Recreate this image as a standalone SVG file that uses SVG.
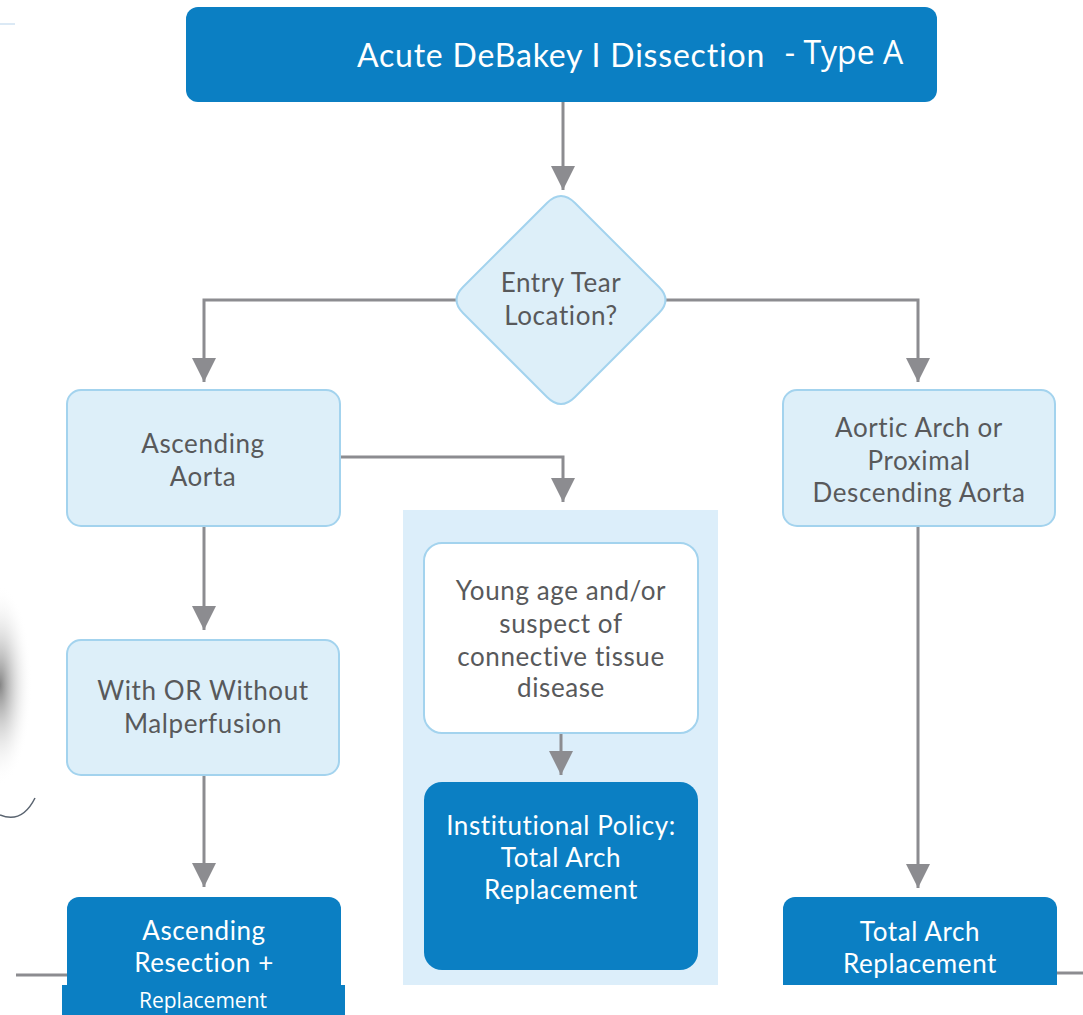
<svg xmlns="http://www.w3.org/2000/svg" width="1083" height="1015" viewBox="0 0 1083 1015">
<defs>
<marker id="ah" markerUnits="userSpaceOnUse" markerWidth="28" markerHeight="24" refX="24" refY="12" orient="auto">
<path d="M0,0 L24,12 L0,24 Z" fill="#8c8c90"/>
</marker>
<radialGradient id="shade" cx="0.5" cy="0.5" r="0.5">
<stop offset="0" stop-color="#777" stop-opacity="0.9"/>
<stop offset="1" stop-color="#fff" stop-opacity="0"/>
</radialGradient>
<style>
.dark{fill:#0b7fc3;}
.light{fill:#ddeff9;stroke:#a3d3ee;stroke-width:2;}
.white{fill:#ffffff;stroke:#a3d3ee;stroke-width:2;}
.t{font-family:Lato,"Open Sans","Liberation Sans",sans-serif;font-size:26px;letter-spacing:0.6px;text-anchor:middle;}
.g{fill:#58595b;}
.w{fill:#ffffff;}
.c{fill:none;stroke:#8c8c90;stroke-width:3;}
</style>
</defs>
<rect width="1083" height="1015" fill="#ffffff"/>
<line x1="0" y1="24" x2="15" y2="24" stroke="#dbe9f5" stroke-width="2"/>
<ellipse cx="0" cy="685" rx="32" ry="100" fill="url(#shade)"/>
<path d="M0,815 Q22,824 35,798" fill="none" stroke="#5a6470" stroke-width="1.5"/>
<rect x="403" y="510" width="315" height="475" fill="#dceefa"/>

<g id="connectors">
<line class="c" x1="563" y1="102" x2="563" y2="190" marker-end="url(#ah)"/>
<polyline class="c" points="457,300 204,300 204,382" marker-end="url(#ah)"/>
<polyline class="c" points="665,300 918,300 918,382" marker-end="url(#ah)"/>
<polyline class="c" points="340,457 563,457 563,502" marker-end="url(#ah)"/>
<line class="c" x1="204" y1="526" x2="204" y2="630" marker-end="url(#ah)"/>
<line class="c" x1="204" y1="775" x2="204" y2="887" marker-end="url(#ah)"/>
<line class="c" x1="561" y1="733" x2="561" y2="775" marker-end="url(#ah)"/>
<line class="c" x1="918" y1="526" x2="918" y2="888" marker-end="url(#ah)"/>
<line class="c" x1="16" y1="975" x2="67" y2="975"/>
<line class="c" x1="1057" y1="973" x2="1083" y2="973"/>
</g>

<g id="n-top">
<rect class="dark" x="186" y="7" width="751" height="95" rx="12"/>
<text class="t w" x="561" y="67" style="font-size:32px;letter-spacing:0.8px">Acute DeBakey I Dissection</text>
<text x="844" y="64" text-anchor="middle" fill="#ffffff" font-family="'Open Sans','Liberation Sans',sans-serif" font-size="32">- Type A</text>
</g>

<g id="n-entry">
<path class="light" d="M547,203 Q561,189 575,203 L659,287 Q672,300 659,313 L575,397 Q561,411 547,397 L463,313 Q450,300 463,287 Z"/>
<text class="t g" x="561" y="292">Entry Tear</text>
<text class="t g" x="561" y="325">Location?</text>
</g>

<g id="n-ascending">
<rect class="light" x="67" y="390" width="273" height="136" rx="14"/>
<text class="t g" x="203" y="453">Ascending</text>
<text class="t g" x="203" y="486">Aorta</text>
</g>

<g id="n-arch">
<rect class="light" x="783" y="390" width="272" height="136" rx="14"/>
<text class="t g" x="919" y="437">Aortic Arch or</text>
<text class="t g" x="919" y="470">Proximal</text>
<text class="t g" x="919" y="502">Descending Aorta</text>
</g>

<g id="n-young">
<rect class="white" x="424" y="543" width="274" height="190" rx="18"/>
<text class="t g" x="561" y="600">Young age and/or</text>
<text class="t g" x="561" y="633">suspect of</text>
<text class="t g" x="561" y="666">connective tissue</text>
<text class="t g" x="561" y="697">disease</text>
</g>

<g id="n-institutional">
<rect class="dark" x="424" y="782" width="274" height="188" rx="18"/>
<text class="t w" x="561" y="835">Institutional Policy:</text>
<text class="t w" x="561" y="867">Total Arch</text>
<text class="t w" x="561" y="899">Replacement</text>
</g>

<g id="n-malperfusion">
<rect class="light" x="67" y="640" width="272" height="135" rx="14"/>
<text class="t g" x="203" y="700">With OR Without</text>
<text class="t g" x="203" y="733">Malperfusion</text>
</g>

<g id="n-resection">
<rect class="dark" x="67" y="897" width="274" height="100" rx="12"/>
<text class="t w" x="204" y="940">Ascending</text>
<text class="t w" x="204" y="972">Resection +</text>
</g>

<g id="n-total">
<rect class="dark" x="783" y="897" width="274" height="100" rx="12"/>
<text class="t w" x="920" y="941">Total Arch</text>
<text class="t w" x="920" y="973">Replacement</text>
</g>

<rect x="0" y="985" width="1083" height="30" fill="#ffffff"/>
<g id="n-replacement">
<rect class="dark" x="62" y="985" width="283" height="30"/>
<text x="203" y="1008" text-anchor="middle" fill="#ffffff" font-family="'Open Sans','Liberation Sans',sans-serif" font-size="21">Replacement</text>
</g>
</svg>
